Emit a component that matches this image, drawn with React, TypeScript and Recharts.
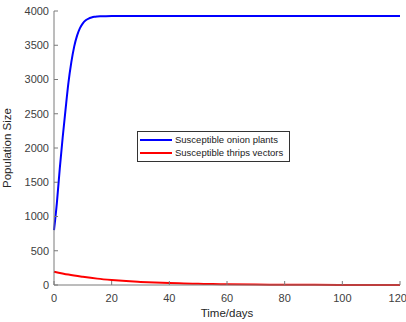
import { CartesianGrid, Legend, Line, LineChart, XAxis, YAxis } from "recharts";

const onionTimes = [0, 1, 2, 3, 4, 5, 6, 7, 8, 9, 10, 11, 12, 13, 14, 15, 16, 18, 20, 30, 40, 50, 60, 70, 80, 90, 100, 110, 120];
const onionPlants = [800, 1200, 1700, 2150, 2560, 2950, 3250, 3480, 3640, 3750, 3820, 3865, 3890, 3905, 3915, 3920, 3923, 3925, 3926, 3926, 3926, 3926, 3926, 3926, 3926, 3926, 3926, 3926, 3926];

const thripsTimes = [0, 5, 10, 15, 20, 25, 30, 35, 40, 45, 50, 55, 60, 70, 80, 90, 100, 110, 120];
const thripsVectors = [195, 152, 120, 93, 73, 57, 45, 35, 28, 22, 17, 13, 10, 6, 4, 2, 1, 1, 1];

const xTicks = [0, 20, 40, 60, 80, 100, 120];
const yTicks = [0, 500, 1000, 1500, 2000, 2500, 3000, 3500, 4000];

const onionData = onionTimes.map((t, i) => ({ t, v: onionPlants[i] }));
const thripsData = thripsTimes.map((t, i) => ({ t, v: thripsVectors[i] }));

const axisColor = "#7a7a7a";
const textColor = "#404040";
const font = "'Liberation Sans', Arial, sans-serif";

function BoxLegend(props: any) {
  const items = props.payload || [];
  return (
    <div
      style={{
        border: "1px solid #333",
        background: "#fff",
        padding: "2px 6px 2px 2px",
        fontFamily: font,
        fontSize: 9.5,
        color: "#1a1a1a",
        lineHeight: "12.5px",
      }}
    >
      {items.map((it: any) => (
        <div key={it.value} style={{ display: "flex", alignItems: "center" }}>
          <span style={{ display: "inline-block", width: 32, height: 2, background: it.color, marginRight: 3 }} />
          <span>{it.value}</span>
        </div>
      ))}
    </div>
  );
}

export default function App() {
  return (
    <div style={{ position: "absolute", left: 0, top: 0, width: 406, height: 322, background: "#fff" }}>
      <LineChart width={406} height={322} margin={{ top: 11, right: 6, left: 0, bottom: 0 }}>
        <CartesianGrid stroke="none" />
        <XAxis
          dataKey="t"
          type="number"
          domain={[0, 120]}
          ticks={xTicks}
          allowDuplicatedCategory={false}
          height={37}
          stroke={axisColor}
          tickSize={-4}
          tickMargin={13}
          tick={{ fill: textColor, fontSize: 11, fontFamily: font }}
          label={{ value: "Time/days", position: "insideBottom", offset: 5, fill: "#262626", fontSize: 11.5, fontFamily: font }}
        />
        <XAxis
          xAxisId="top"
          orientation="top"
          type="number"
          domain={[0, 120]}
          ticks={xTicks}
          height={0}
          stroke={axisColor}
          tickSize={-4}
          tickFormatter={() => ""}
        />
        <YAxis
          type="number"
          domain={[0, 4000]}
          ticks={yTicks}
          width={54}
          stroke={axisColor}
          tickSize={-4}
          tickMargin={9}
          tick={{ fill: textColor, fontSize: 11, fontFamily: font }}
          label={{
            value: "Population Size",
            angle: -90,
            position: "insideLeft",
            offset: 7,
            fill: "#262626",
            fontSize: 11.5,
            fontFamily: font,
            style: { textAnchor: "middle" },
          }}
        />
        <YAxis
          yAxisId="right"
          orientation="right"
          type="number"
          domain={[0, 4000]}
          ticks={yTicks}
          width={0}
          stroke={axisColor}
          tickSize={-4}
          tickFormatter={() => ""}
        />
        <Legend
          layout="vertical"
          align="center"
          verticalAlign="middle"
          content={<BoxLegend />}
          wrapperStyle={{ left: 137, top: 131, width: "auto" }}
        />
        <Line
          data={onionData}
          dataKey="v"
          name="Susceptible onion plants"
          type="monotone"
          stroke="#0000ff"
          strokeWidth={2}
          dot={false}
          isAnimationActive={false}
        />
        <Line
          data={thripsData}
          dataKey="v"
          name="Susceptible thrips vectors"
          type="monotone"
          stroke="#ff0000"
          strokeWidth={2}
          dot={false}
          isAnimationActive={false}
        />
      </LineChart>
    </div>
  );
}
